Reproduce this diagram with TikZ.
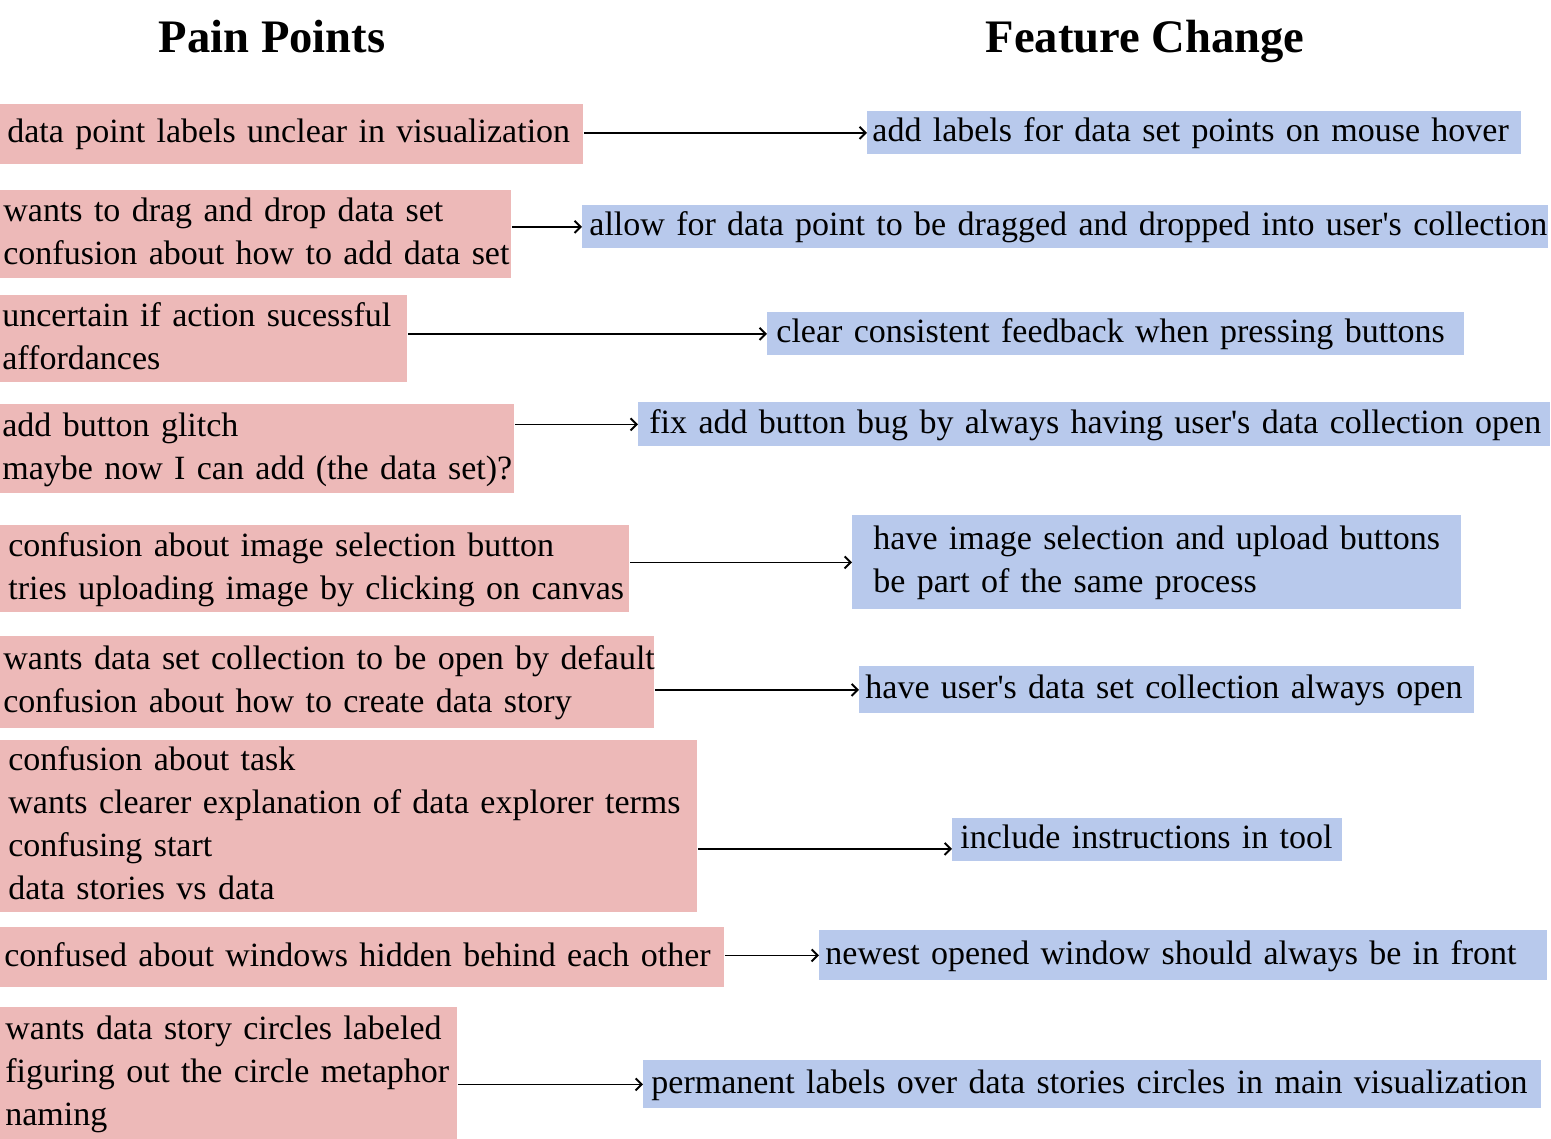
\documentclass[tikz,border=0pt]{standalone}
\usepackage{fontspec}
\setmainfont{Liberation Serif}
\usetikzlibrary{arrows.meta}
\definecolor{painc}{RGB}{237,185,184}
\definecolor{featc}{RGB}{184,201,236}
\newcommand{\ap}{\textquotesingle}
\tikzset{
  box/.style={anchor=north west, inner ysep=0pt, align=left,
    font=\fontsize{17}{21.5}\selectfont},
  pain/.style={box, fill=painc},
  feat/.style={box, fill=featc},
  title/.style={font=\fontsize{23.3}{28}\selectfont\bfseries, anchor=base},
  arr/.style={-{Straight Barb[length=3pt,width=6pt,line width=1pt]}, line width=0.75pt}
}
\newcommand{\bx}[8]{% name, style, x0, y0, x1, y1, xsep, text
  \node[#2, minimum height={(#6-#4)*0.5pt}, text width={(#5-#3-2*#7)*0.5pt}, inner xsep={#7*0.5pt}] (#1) at (#3,#4) {\hfuzz=200pt\begin{tabular}{@{}l@{}}#8\end{tabular}};}
\begin{document}
\begin{tikzpicture}[x=0.5pt,y=-0.5pt]
\useasboundingbox (0,0) rectangle (1551,1139);
\node[title] (t1) at (272,53) {Pain Points};
\node[title] (t2) at (1145,53) {Feature Change};

\bx{P1}{pain}{0}{104}{583}{164}{7}{data point labels unclear in visualization}
\bx{B1}{feat}{867}{111}{1521}{153}{5}{add labels for data set points on mouse hover}

\bx{P2}{pain}{0}{190}{511}{278}{3}{wants to drag and drop data set\\confusion about how to add data set}
\bx{B2}{feat}{582}{205}{1548}{247}{7}{allow for data point to be dragged and dropped into user\ap s collection}

\bx{P3}{pain}{0}{295}{407}{382}{2}{uncertain if action sucessful\\affordances}
\bx{B3}{feat}{767}{312}{1464}{351}{9}{clear consistent feedback when pressing buttons}

\bx{P4}{pain}{0}{404}{514}{493}{2}{add button glitch\\maybe now I can add (the data set)?}
\bx{B4}{feat}{638}{402}{1550}{446}{11}{fix add button bug by always having user\ap s data collection open}

\bx{P5}{pain}{0}{525}{629}{612}{8}{confusion about image selection button\\tries uploading image by clicking on canvas}
\bx{B5}{feat}{852}{515}{1461}{609}{21}{have image selection and upload buttons\\be part of the same process}

\bx{P6}{pain}{0}{636}{654}{728}{3}{wants data set collection to be open by default\\confusion about how to create data story}
\bx{B6}{feat}{859}{666}{1474}{713}{6}{have user\ap s data set collection always open}

\bx{P7}{pain}{0}{740}{697}{910}{8}{confusion about task\\wants clearer explanation of data explorer terms\\confusing start\\data stories vs data}
\bx{B7}{feat}{952}{818}{1342}{860}{8}{include instructions in tool}

\bx{P8}{pain}{0}{927}{724}{987}{4}{confused about windows hidden behind each other}
\bx{B8}{feat}{819}{930}{1547}{980}{6}{newest opened window should always be in front}

\bx{P9}{pain}{0}{1007}{457}{1139}{5}{wants data story circles labeled\\figuring out the circle metaphor\\naming}
\bx{B9}{feat}{643}{1060}{1541}{1108}{8}{permanent labels over data stories circles in main visualization}

\draw[arr] (B1.west -| P1.east) -- (B1.west);
\draw[arr] (B2.west -| P2.east) -- (B2.west);
\draw[arr] (B3.west -| P3.east) -- (B3.west);
\draw[arr] (B4.west -| P4.east) -- (B4.west);
\draw[arr] (B5.west -| P5.east) -- (B5.west);
\draw[arr] (B6.west -| P6.east) -- (B6.west);
\draw[arr] ([yshift=-4.5pt]B7.west -| P7.east) -- ([yshift=-4.5pt]B7.west);
\draw[arr] (B8.west -| P8.east) -- (B8.west);
\draw[arr] (B9.west -| P9.east) -- (B9.west);
\end{tikzpicture}
\end{document}
